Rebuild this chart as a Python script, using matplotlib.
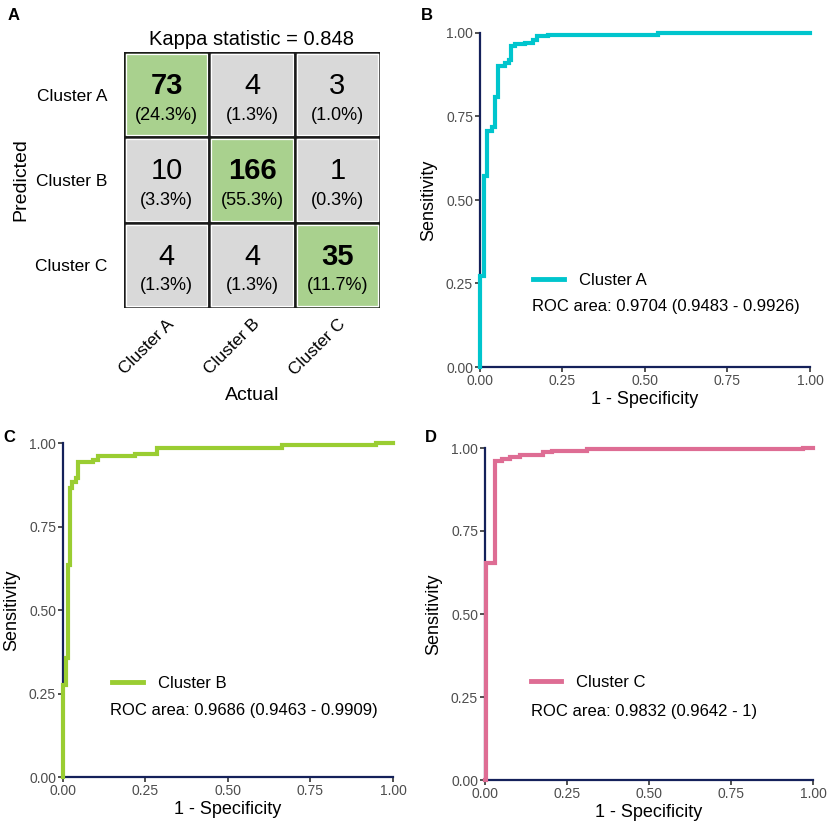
import matplotlib

matplotlib.use("Agg")
import matplotlib.pyplot as plt
from matplotlib.lines import Line2D
from matplotlib.patches import Rectangle

plt.rcParams["font.family"] = ["Liberation Sans", "DejaVu Sans"]

# confusion matrix: rows = predicted, columns = actual
CLASSES = ["Cluster A", "Cluster B", "Cluster C"]
COUNTS = [
    [73, 4, 3],
    [10, 166, 1],
    [4, 4, 35],
]
KAPPA = 0.848

# ROC step curves (fpr where tpr jumps, new tpr)
FPR_A = [0.0, 0.001, 0.012, 0.022, 0.035, 0.045, 0.055, 0.076, 0.089, 0.093,
         0.106, 0.136, 0.162, 0.172, 0.207, 0.54, 1.0]
TPR_A = [0.0, 0.272, 0.572, 0.707, 0.718, 0.807, 0.900, 0.910, 0.919, 0.961,
         0.967, 0.971, 0.979, 0.991, 0.994, 1.0, 1.0]

FPR_B = [0.0, 0.001, 0.009, 0.015, 0.020, 0.026, 0.038, 0.046, 0.092, 0.105,
         0.218, 0.284, 0.663, 0.95, 1.0]
TPR_B = [0.0, 0.275, 0.356, 0.635, 0.865, 0.884, 0.895, 0.942, 0.949, 0.961,
         0.967, 0.984, 0.994, 1.0, 1.0]

FPR_C = [0.0, 0.002, 0.03, 0.051, 0.076, 0.107, 0.178, 0.203, 0.31, 0.97, 1.0]
TPR_C = [0.0, 0.655, 0.962, 0.966, 0.972, 0.979, 0.987, 0.992, 0.996, 1.0, 1.0]

ROC_LABELS = [
    "ROC area: 0.9704 (0.9483 - 0.9926)",
    "ROC area: 0.9686 (0.9463 - 0.9909)",
    "ROC area: 0.9832 (0.9642 - 1)",
]

GREEN = "#A9D18E"
GREY = "#D9D9D9"
AXIS_NAVY = "#14215A"
CURVE_COLORS = ["#00C5CD", "#9ACD32", "#DE6D94"]
TICK_GREY = "#4D4D4D"

W, H = 829, 821
fig = plt.figure(figsize=(W / 100, H / 100), dpi=100)


def px_axes(x0, x1, ytop, ybot):
    return fig.add_axes([x0 / W, 1 - ybot / H, (x1 - x0) / W, (ybot - ytop) / H])


# ---------------- panel A: confusion matrix ----------------
ax = px_axes(124, 380, 52, 308)
total = sum(sum(r) for r in COUNTS)
for i, row in enumerate(COUNTS):
    for j, n in enumerate(row):
        diag = i == j
        ax.add_patch(Rectangle((j, i), 1, 1, facecolor=GREEN if diag else GREY,
                               edgecolor="#1a1a1a", lw=1.8))
        ax.add_patch(Rectangle((j + 0.025, i + 0.025), 0.95, 0.95, facecolor="none",
                               edgecolor="white", lw=0.9))
        ax.text(j + 0.5, i + 0.4, str(n), ha="center", va="center", fontsize=21,
                fontweight="bold" if diag else "normal")
        ax.text(j + 0.5, i + 0.74, f"({100 * n / total:.1f}%)", ha="center",
                va="center", fontsize=13)
ax.set_xlim(0, 3)
ax.set_ylim(3, 0)
ax.set_xticks([0.5, 1.5, 2.5])
ax.set_xticklabels(CLASSES, rotation=45, ha="right", va="top",
                   rotation_mode="anchor", fontsize=12.5)
ax.set_yticks([0.5, 1.5, 2.5])
ax.set_yticklabels(CLASSES, fontsize=12.5)
ax.tick_params(axis="y", length=0, pad=12)
ax.tick_params(axis="x", length=0, pad=6)
for s in ax.spines.values():
    s.set_visible(False)
ax.set_title(f"Kappa statistic = {KAPPA}", fontsize=14.5, pad=5)
ax.set_xlabel("Actual", fontsize=14)
ax.set_ylabel("Predicted", fontsize=14)
ax.xaxis.set_label_coords(0.5, -0.31)
ax.yaxis.set_label_coords(-0.37, 0.5)

# ---------------- ROC panels ----------------
roc_specs = [
    # pixel box, curve, label, legend pos, roc text pos
    ((480, 810, 33, 367), FPR_A, TPR_A, "Cluster A", (0.16, 0.26), (0.157, 0.18)),
    ((63, 393, 443, 777), FPR_B, TPR_B, "Cluster B", (0.148, 0.28), (0.142, 0.20)),
    ((485, 813, 448, 780), FPR_C, TPR_C, "Cluster C", (0.139, 0.295), (0.14, 0.206)),
]

for k, (box, fpr, tpr, name, leg_xy, txt_xy) in enumerate(roc_specs):
    ax = px_axes(*box)
    color = CURVE_COLORS[k]
    ax.step(fpr, tpr, where="post", color=color, lw=3, clip_on=False, zorder=3,
            solid_joinstyle="miter")
    ax.set_xlim(0, 1)
    ax.set_ylim(0, 1)
    ticks = [0, 0.25, 0.5, 0.75, 1.0]
    ax.set_xticks(ticks)
    ax.set_yticks(ticks)
    ax.set_xticklabels([f"{t:.2f}" for t in ticks])
    ax.set_yticklabels([f"{t:.2f}" for t in ticks])
    ax.tick_params(labelsize=10, labelcolor=TICK_GREY, length=3.5, width=1.1,
                   pad=1.5, color="#222222")
    ax.spines["top"].set_visible(False)
    ax.spines["right"].set_visible(False)
    for side in ("left", "bottom"):
        ax.spines[side].set_color(AXIS_NAVY)
        ax.spines[side].set_linewidth(1.6)
    ax.set_xlabel("1 - Specificity", fontsize=13)
    ax.set_ylabel("Sensitivity", fontsize=13)
    ax.xaxis.set_label_coords(0.5, -0.073)
    ax.yaxis.set_label_coords(-0.13, 0.5)
    handle = Line2D([], [], color=color, lw=3.5)
    ax.legend([handle], [name], loc="center left", bbox_to_anchor=leg_xy,
              frameon=False, fontsize=12, handlelength=1.85, handletextpad=0.9,
              borderpad=0, borderaxespad=0)
    ax.text(txt_xy[0], txt_xy[1], ROC_LABELS[k], transform=ax.transAxes,
            ha="left", va="center", fontsize=12)

# panel letters
for letter, (x, y) in zip("ABCD", [(14, 16), (427, 16), (9, 437), (431, 437)]):
    fig.text(x / W, 1 - y / H, letter, fontsize=12, fontweight="bold",
             ha="center", va="center")

fig.savefig("out.png", dpi=100)
